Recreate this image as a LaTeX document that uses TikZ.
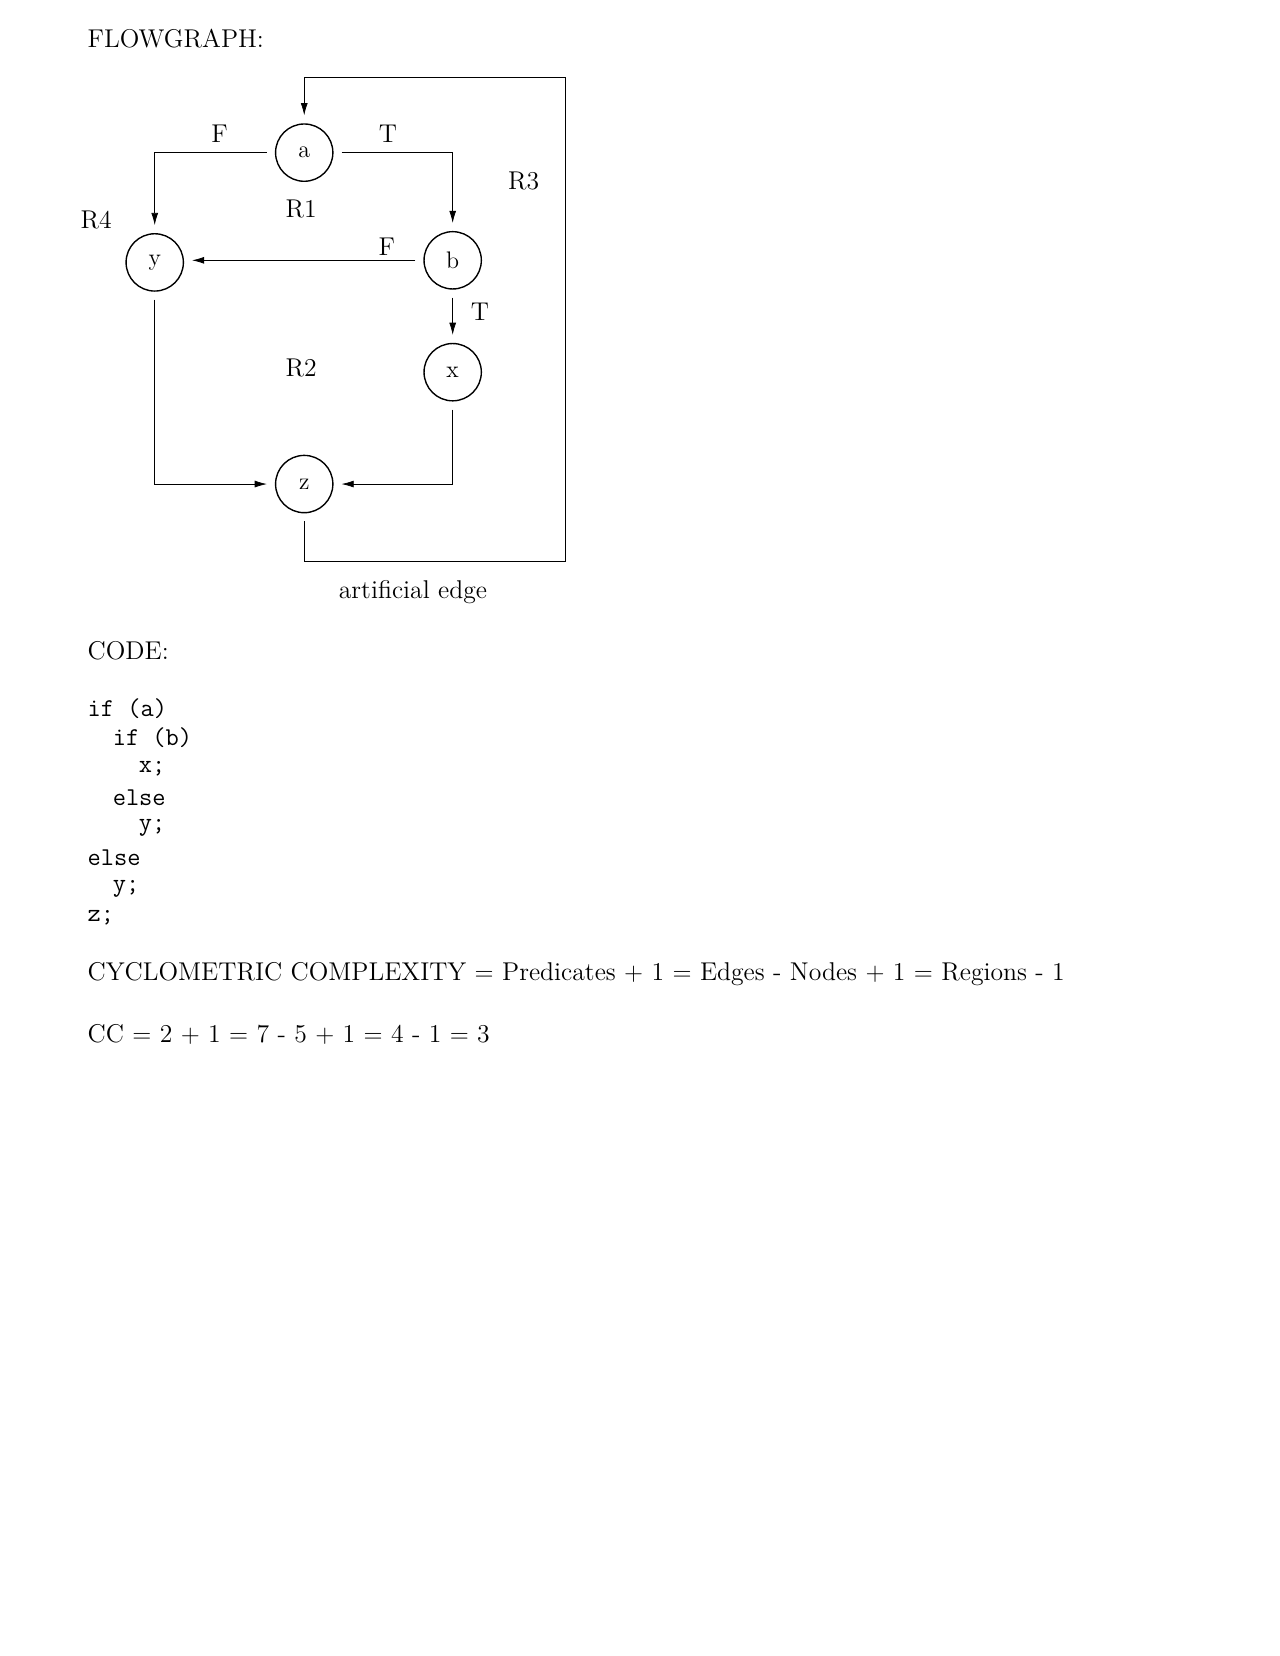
\documentclass[tikz,border=0pt]{standalone}
\usetikzlibrary{arrows.meta}
\begin{document}
\begin{tikzpicture}[x=0.02116cm,y=-0.02116cm,
    blk/.style={circle,draw,thick,minimum size=1.16cm,inner sep=0pt,outer sep=5pt,font=\fontsize{13.8}{16}\selectfont},
    lbl/.style={font=\fontsize{14.8}{17}\selectfont},
    txt/.style={anchor=west,font=\fontsize{14.8}{17}\selectfont},
    cod/.style={anchor=west,font=\ttfamily\fontsize{14.8}{17}\selectfont},
    flow/.style={-{Latex[length=7pt,width=4pt]}}]
    \useasboundingbox (0,0) rectangle (1224,1584);
    % the flowgraph
    \node[blk] (a) at (291,146) {a};
    \node[blk] (y) at (148,251) {y};
    \node[blk] (b) at (433,249) {b};
    \node[blk] (x) at (433,356) {x};
    \node[blk] (z) at (291,463) {z};
    \coordinate (TopL) at (291,74);
    \coordinate (TopR) at (541,74);
    \coordinate (BotR) at (541,537);

    \draw[flow] (a.west) -| (y.north);
    \draw[flow] (a.east) -| (b.north);
    \draw[flow] (b.west) -- (y.east |- b.west);
    \draw[flow] (b.south) -- (x.north);
    \draw[flow] (y.south) |- (z.west);
    \draw[flow] (x.south) |- (z.east);
    \draw[flow] (z.south) |- (BotR) -- (TopR) -- (TopL) -- (a.north);

    \foreach \p/\t in {
        {(210,128)}/F, {(371,128)}/T, {(370,236)}/F, {(459,298)}/T,
        {(288,200)}/R1, {(288,352)}/R2, {(501,173)}/R3, {(92,210)}/R4,
        {(395,566)}/artificial edge}
    {
        \node[lbl] at \p {\t};
    };

    % text below
    \node[txt] at (78,37) {FLOWGRAPH:};
    \node[txt] at (78,622) {CODE:};
    \foreach \xx/\yy/\t in {78/678/if (a), 102/706/if (b), 127/735/x;, 102/763/else,
        127/792/y;, 78/820/else, 102/850/y;, 78/878/z;}
    {
        \node[cod] at (\xx,\yy) {\t};
    };
    \node[txt] at (78,932) {CYCLOMETRIC COMPLEXITY $=$ Predicates $+$ 1 $=$ Edges - Nodes $+$ 1 $=$ Regions - 1};
    \node[txt] at (78,989) {CC $=$ 2 $+$ 1 $=$ 7 - 5 $+$ 1 $=$ 4 - 1 $=$ 3};
\end{tikzpicture}
\end{document}
